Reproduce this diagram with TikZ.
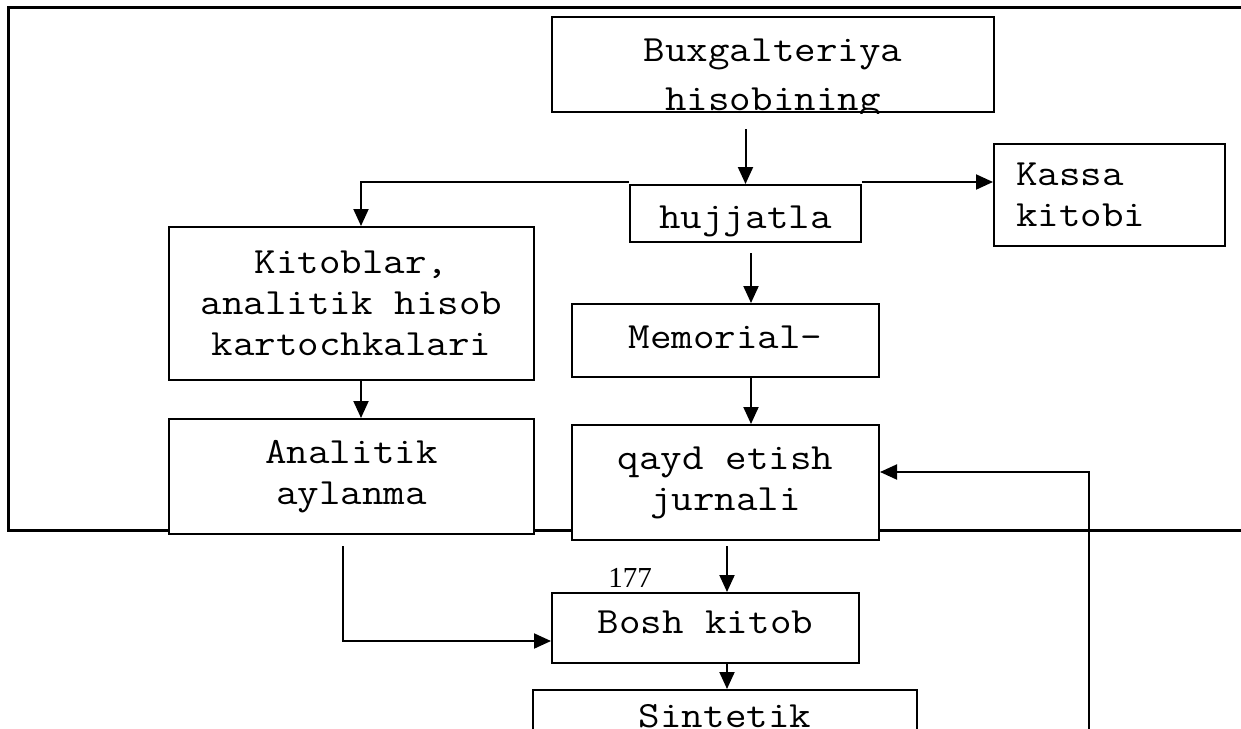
\documentclass[tikz,border=0pt]{standalone}
\usepackage{fontspec}
\setmainfont{Liberation Serif}
\setmonofont[FakeStretch=1.13]{Latin Modern Mono}
\usepackage{tikz}
\usetikzlibrary{arrows.meta}
\usetikzlibrary{positioning}
\tikzstyle{block} = [rectangle, minimum width=307pt, minimum height=70pt, align=center, draw=black, fill=white, line width=2pt, font=\ttfamily\fontsize{37}{41}\selectfont]
\tikzstyle{arrow} = [line width=2pt, -{Triangle[length=17pt, width=15pt]}]
\tikzstyle{frameline} = [line width=3pt]

\begin{document}
\begin{tikzpicture}[x=1pt, y=-1pt, node distance=140pt]
    \useasboundingbox (0,0) rectangle (1241,728);
    \clip (0,0) rectangle (1241,728);
    % page frame
    \draw [frameline] (1260,530) -| (8,7) -- (1260,7);

    \begin{scope}
        \clip (551,16) rectangle (995,113);
        \node (bux) [block, minimum width=442pt, inner ysep=0pt, text height=93pt, text depth=2pt, font=\ttfamily\fontsize{37}{49}\selectfont] at (773,64.5) {Buxgalteriya\\hisobining};
    \end{scope}
    \node (huj) [block, below of=bux, yshift=-9pt, xshift=-27.5pt, minimum width=231pt, minimum height=57pt, text height=29pt, text depth=0pt] {hujjatla};
    \node (kassa) [block, right of=huj, xshift=224pt, yshift=18.5pt, minimum width=231pt, minimum height=102pt, text width=187pt, inner xsep=22pt, align=left] {Kassa\\kitobi};
    \node (memo) [block, below of=huj, yshift=13pt, xshift=-20pt, minimum height=73pt, text height=20pt, text depth=5pt] {Memorial-};
    \node (qayd) [block, below of=memo, yshift=-2pt, minimum height=115pt] {qayd etish\\jurnali};
    \node (bosh) [block, below of=qayd, yshift=-5.5pt, xshift=-20pt, text height=18pt, text depth=8pt] {Bosh kitob};
    \node (kitob) [block, left of=huj, xshift=-254pt, yshift=-90pt, minimum width=365pt, minimum height=153pt] {Kitoblar,\\analitik hisob\\kartochkalari};
    \node (anal) [block, below of=kitob, yshift=-33pt, minimum width=365pt, minimum height=115pt] {Analitik\\aylanma};
    \node (sint) [block, anchor=north, minimum width=384pt, inner ysep=14pt, text depth=60pt] at (725,689) {Sintetik};
    \node (page) [font=\fontsize{29}{34}\selectfont, inner sep=0pt] at (630,578) {177};
    \coordinate (fb) at (1089,740);

    \draw [arrow] ([yshift=-16pt]bux.south -| huj.north) -- (huj.north);
    \draw [arrow] ([yshift=2pt]huj.north east) -- ([yshift=2pt]huj.north east -| kassa.west);
    \draw [arrow] ([yshift=2pt]huj.north west) -| ([xshift=9.5pt]kitob.north);
    \draw [arrow] ([xshift=5.5pt, yshift=-10pt]huj.south) -- ([xshift=5.5pt]huj.south |- memo.north);
    \draw [arrow] ([xshift=25.5pt]memo.south) -- ([xshift=25.5pt]qayd.north);
    \draw [arrow] ([xshift=9.5pt]kitob.south) -- ([xshift=9.5pt]anal.north);
    \draw [arrow] ([xshift=1.5pt, yshift=-5pt]qayd.south) -- ([xshift=1.5pt]qayd.south |- bosh.north);
    \draw [arrow] ([xshift=-8.5pt, yshift=-11pt]anal.south) |- ([yshift=-13pt]bosh.west);
    \draw [arrow] ([xshift=21.5pt]bosh.south) -- ([xshift=21.5pt]bosh.south |- sint.north);
    \draw [arrow] (fb) |- ([yshift=10.5pt]qayd.east);
\end{tikzpicture}
\end{document}
